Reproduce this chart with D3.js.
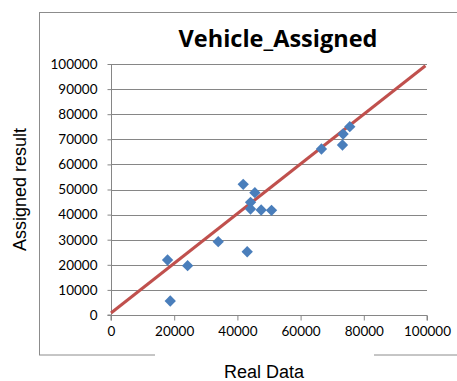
<!DOCTYPE html>
<html>
<head>
<meta charset="utf-8">
<script src="https://cdn.jsdelivr.net/npm/d3@7/dist/d3.min.js"></script>
<style>
  html, body { margin: 0; padding: 0; background: #fff; }
  svg { display: block; }
</style>
</head>
<body>
<svg id="chart" width="457" height="381"></svg>
<script>
// Observed values: real vs. assigned vehicle counts
const realData = [17900, 18750, 24240, 33930, 43100, 41840, 45530, 44160, 44160, 47520, 50800, 66600, 73250, 73450, 75560];
const assigned = [21900, 5580, 19650, 29200, 25200, 52060, 48730, 44900, 42230, 41830, 41700, 66140, 67730, 72110, 75020];

// Fitted trend line end points
const trendX = [0, 99500];
const trendY = [800, 99300];

const xTicks = [0, 20000, 40000, 60000, 80000, 100000];
const yTicks = [0, 10000, 20000, 30000, 40000, 50000, 60000, 70000, 80000, 90000, 100000];

const svg = d3.select("#chart");
const plot = { left: 111, right: 427, top: 64, bottom: 315 };

const x = d3.scaleLinear().domain([0, 100000]).range([plot.left, plot.right]);
const y = d3.scaleLinear().domain([0, 100000]).range([plot.bottom, plot.top]);

const gridColor = "#868686";
const labelFont = "Lato, 'Open Sans', sans-serif";

// Chart frame
svg.append("rect")
  .attr("x", 39.5).attr("y", 12.5)
  .attr("width", 440).attr("height", 342.5)
  .attr("fill", "none").attr("stroke", "#8c8c8c").attr("stroke-width", 1);

// Horizontal gridlines
svg.append("g")
  .selectAll("line")
  .data(yTicks.filter(d => d > 0))
  .join("line")
  .attr("x1", plot.left).attr("x2", plot.right)
  .attr("y1", d => Math.round(y(d)) + 0.5).attr("y2", d => Math.round(y(d)) + 0.5)
  .attr("stroke", gridColor).attr("stroke-width", 1);

// Axes
const yAxis = d3.axisLeft(y).tickValues(yTicks).tickSize(4).tickPadding(10).tickFormat(d3.format("d"));
const xAxis = d3.axisBottom(x).tickValues(xTicks).tickSize(5).tickPadding(6).tickFormat(d3.format("d"));

const gy = svg.append("g").attr("transform", `translate(${plot.left + 0.5},0)`).call(yAxis);
const gx = svg.append("g").attr("transform", `translate(0,${plot.bottom + 0.5})`).call(xAxis);

[gx, gy].forEach(g => {
  g.select(".domain").attr("stroke", gridColor);
  g.selectAll(".tick line").attr("stroke", gridColor);
  g.selectAll(".tick text")
    .attr("fill", "#000")
    .style("font-family", labelFont)
    .style("font-size", "13.5px");
});
gy.select(".domain").attr("d", `M-4,${plot.bottom}H0V${plot.top}`);
gx.select(".domain").attr("d", `M${plot.left},5V0H${plot.right}V5`);

// Trend line
const trend = trendX.map((v, i) => [v, trendY[i]]);
svg.append("path")
  .datum(trend)
  .attr("d", d3.line().x(d => x(d[0])).y(d => y(d[1])))
  .attr("stroke", "#c0504d").attr("stroke-width", 3).attr("fill", "none");

// Data markers (diamonds)
const diamond = d3.symbol().type(d3.symbolSquare).size(64);
svg.append("g")
  .selectAll("path")
  .data(realData.map((v, i) => [v, assigned[i]]))
  .join("path")
  .attr("d", diamond)
  .attr("transform", d => `translate(${x(d[0])},${y(d[1])}) rotate(45)`)
  .attr("fill", "#4a7ebb");

// Title
svg.append("text")
  .attr("x", 278).attr("y", 47)
  .attr("text-anchor", "middle")
  .style("font-family", "'Open Sans', Lato, sans-serif")
  .style("font-weight", "bold")
  .style("font-size", "23.5px")
  .text("Vehicle_Assigned");

// X axis title with its white backing
svg.append("rect")
  .attr("x", 155).attr("y", 350).attr("width", 219).attr("height", 31)
  .attr("fill", "#fff");
svg.append("text")
  .attr("x", 264).attr("y", 378)
  .attr("text-anchor", "middle")
  .style("font-family", "'Liberation Sans', Arial, sans-serif")
  .style("font-size", "18px")
  .text("Real Data");

// Y axis title
svg.append("text")
  .attr("transform", `translate(26,${(plot.top + plot.bottom) / 2}) rotate(-90)`)
  .attr("text-anchor", "middle")
  .style("font-family", "'Liberation Sans', Arial, sans-serif")
  .style("font-size", "18px")
  .text("Assigned result");
</script>
</body>
</html>
